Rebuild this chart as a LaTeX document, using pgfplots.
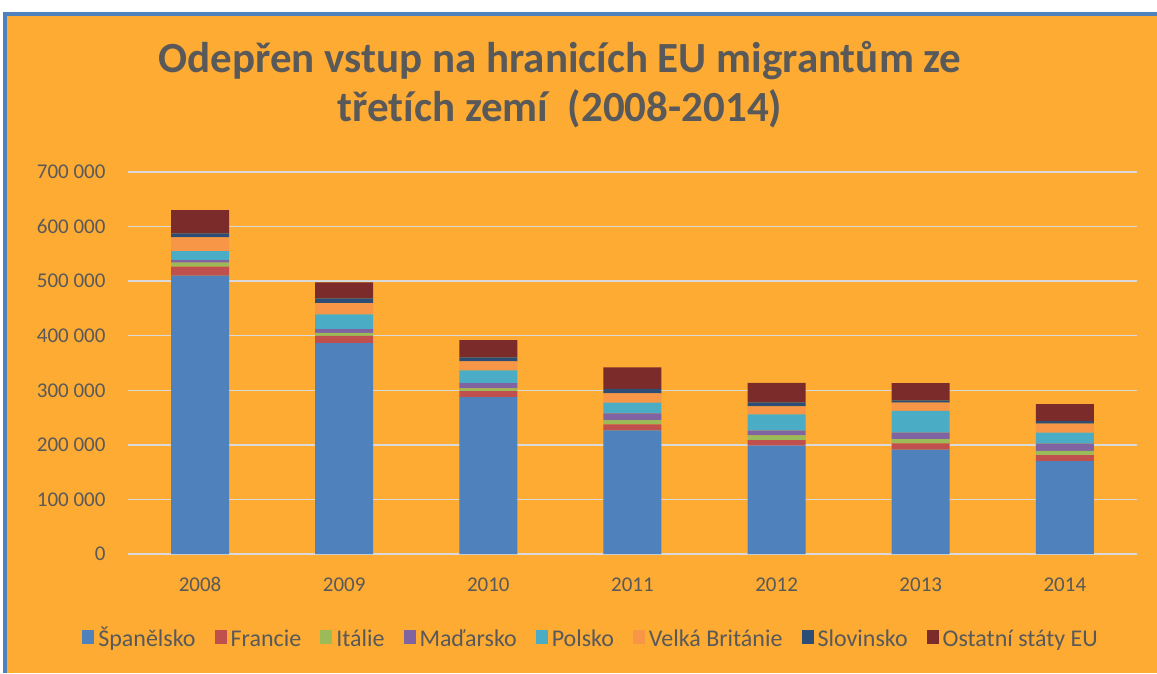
\documentclass[border=0pt]{standalone}
\usepackage{pgfplots}
\pgfplotsset{compat=1.18}
\usepackage{pgfplotstable}
\usepackage{fontspec}
\setmainfont{Carlito}[Ligatures=NoCommon]
\definecolor{bgor}{HTML}{FDAB33}
\definecolor{bord}{HTML}{4F81BD}
\definecolor{txtg}{HTML}{595959}
\definecolor{gridg}{HTML}{D9D9D9}
\definecolor{cES}{HTML}{4F81BD}
\definecolor{cFR}{HTML}{C0504D}
\definecolor{cIT}{HTML}{9BBB59}
\definecolor{cHU}{HTML}{8064A2}
\definecolor{cPL}{HTML}{4BACC6}
\definecolor{cUK}{HTML}{F79646}
\definecolor{cSI}{HTML}{2C4D75}
\definecolor{cOT}{HTML}{7B2C2A}
\pgfplotstableread{
x ES FR IT HU PL UK SI OT
0 510000 16500 7300 4900 16500 25100 7300 42700
1 386600 13300 5500 6800 26900 20700 8600 29400
2 287600 11000 5000 9700 23200 16500 7400 31600
3 226600 11000 7900 12300 19400 17200 8400 39200
4 198400 10400 8700 8400 30000 14700 7300 35900
5 191100 11700 7900 11500 40300 14700 4400 31700
6 170400 11000 7800 12900 20100 16500 5000 31100
}\data
\begin{document}
\begin{tikzpicture}
\useasboundingbox (0,0) rectangle (1157pt,673pt);
\fill[white] (0,0) rectangle (1157pt,673pt);
\fill[bgor] (5pt,0) rectangle (1157pt,659pt);
\fill[bord] (3pt,0) rectangle (7pt,661pt);
\fill[bord] (3pt,657pt) rectangle (1157pt,661pt);
\node[font=\bfseries\fontsize{43}{49}\selectfont, text=txtg, align=center] at (560pt,588pt)
  {Odepřen vstup na hranicích EU migrantům ze\\třetích zemí\ \ (2008-2014)};
\begin{axis}[
  at={(128pt,119pt)}, anchor=south west,
  scale only axis, width=1009pt, height=382pt,
  ybar stacked, bar width=58pt,
  xmin=-0.5, xmax=6.5, ymin=0, ymax=700000,
  xtick=data, xticklabels={2008,2009,2010,2011,2012,2013,2014},
  ytick={0,100000,...,700000},
  scaled y ticks=false,
  /pgf/number format/.cd, fixed, 1000 sep={\ }, assume math mode=true, /pgfplots/.cd,
  ymajorgrids, major grid style={gridg, line width=1.3pt},
  axis line style={draw=none}, major tick length=0pt,
  tick label style={font=\fontsize{21}{25}\selectfont, text=txtg},
  yticklabel style={xshift=-19pt},
  xticklabel style={yshift=-20pt},
  legend style={at={(0.459,-0.225)}, anchor=center, draw=none, fill=none,
    font=\fontsize{24}{28}\selectfont, text=txtg, legend columns=8,
    nodes={text height=18pt, text depth=5pt},
    /tikz/every odd column/.append style={column sep=2pt},
    /tikz/every even column/.append style={column sep=17pt}},
  legend image code/.code={\fill[#1] (0pt,-4pt) rectangle (12pt,10pt);},
  legend cell align=left,
]
\addplot[fill=cES, draw=none] table[x=x,y=ES]{\data};
\addplot[fill=cFR, draw=none] table[x=x,y=FR]{\data};
\addplot[fill=cIT, draw=none] table[x=x,y=IT]{\data};
\addplot[fill=cHU, draw=none] table[x=x,y=HU]{\data};
\addplot[fill=cPL, draw=none] table[x=x,y=PL]{\data};
\addplot[fill=cUK, draw=none] table[x=x,y=UK]{\data};
\addplot[fill=cSI, draw=none] table[x=x,y=SI]{\data};
\addplot[fill=cOT, draw=none] table[x=x,y=OT]{\data};
\legend{Španělsko, Francie, Itálie, Maďarsko, Polsko, Velká Británie, Slovinsko, Ostatní státy EU}
\end{axis}
\end{tikzpicture}
\end{document}
